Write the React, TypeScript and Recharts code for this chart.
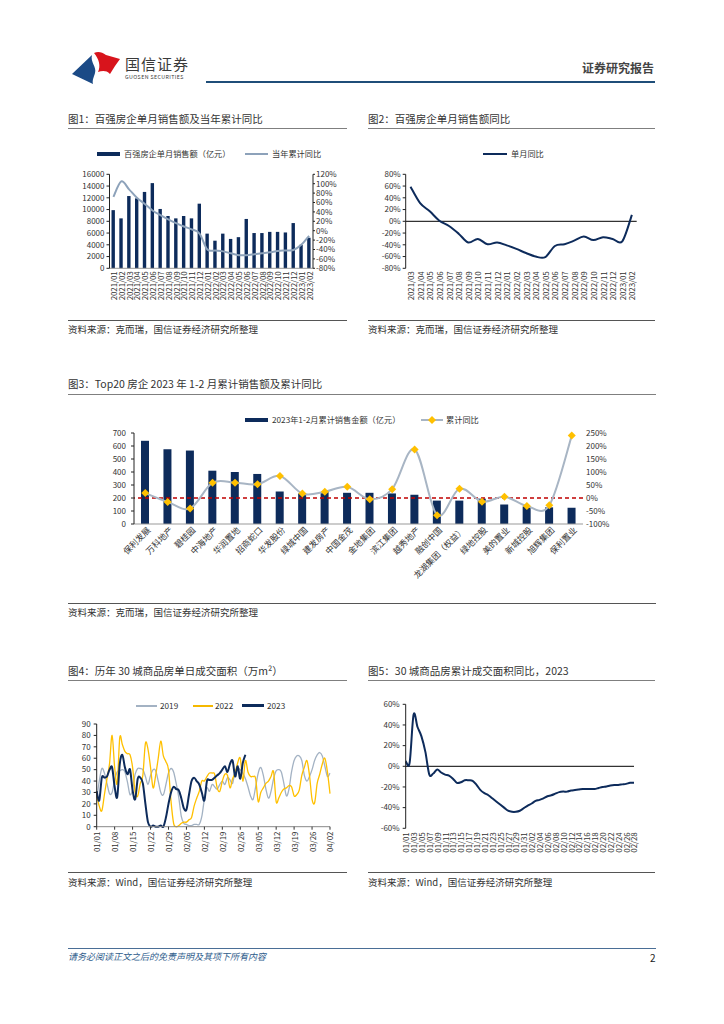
import React from 'react';
import { ComposedChart, LineChart, Bar, Line, XAxis, YAxis, ReferenceLine } from 'recharts';

const FONT = "'Noto Sans CJK SC', 'Noto Sans', sans-serif";
const NAVY = '#0D2B5B';
const TXT = '#333';

// 图1
const months1 = ['2021/01', '2021/02', '2021/03', '2021/04', '2021/05', '2021/06', '2021/07', '2021/08', '2021/09', '2021/10', '2021/11', '2021/12', '2022/01', '2022/02', '2022/03', '2022/04', '2022/05', '2022/06', '2022/07', '2022/08', '2022/09', '2022/10', '2022/11', '2022/12', '2023/01', '2023/02'];
const sales1 = [9900, 8500, 12300, 11900, 13000, 14500, 10100, 8900, 8500, 8900, 8500, 11000, 5900, 4700, 5900, 5000, 5300, 8400, 6000, 6000, 6200, 6200, 6100, 7700, 4000, 5200];
const cumYoy1 = [72, 105, 88, 70, 57, 43, 33, 24, 16, 9, 3, -6, -40, -42, -44, -48, -52, -52, -50, -48, -46, -43, -42, -41, -30, -11];
const leftTicks1 = [0, 2000, 4000, 6000, 8000, 10000, 12000, 14000, 16000];
const rightTicks1 = [-80, -60, -40, -20, 0, 20, 40, 60, 80, 100, 120];

// 图2
const months2 = months1.slice(2);
const yoy2 = [59, 31, 17, 1, -8, -21, -36, -30, -39, -36, -41, -47, -54, -60, -61, -42, -39, -33, -26, -32, -27, -30, -34, 11];
const ticks2 = [-80, -60, -40, -20, 0, 20, 40, 60, 80];

// 图3
const companies = ['保利发展', '万科地产', '碧桂园', '中海地产', '华润置地', '招商蛇口', '华发股份', '绿城中国', '建发房产', '中国金茂', '金地集团', '滨江集团', '越秀地产', '融创中国', '龙湖集团（权益）', '绿地控股', '美的置业', '新城控股', '旭辉集团', '保利置业'];
const sales3 = [640, 575, 565, 410, 400, 385, 250, 235, 245, 240, 240, 235, 225, 180, 180, 195, 150, 135, 128, 125];
const yoy3 = [19, -15, -40, 59, 59, 53, 85, 17, 24, 43, -5, 34, 187, -66, 36, -14, 5, -31, -28, 240];
const leftTicks3 = [0, 100, 200, 300, 400, 500, 600, 700];
const rightTicks3 = [-100, -50, 0, 50, 100, 150, 200, 250];

// 图4
const monthDays = [31, 28, 31, 2];
const days4: string[] = [];
monthDays.forEach((n, m) => {
  for (let d = 1; d <= n; d++) days4.push(`0${m + 1}/${String(d).padStart(2, '0')}`);
});
const y2019 = [25, 40, 51, 47, 38, 29, 30, 41, 48, 49, 50, 48, 39, 28, 33, 46, 51, 51, 50, 44, 37, 45, 50, 49, 40, 30, 28, 37, 47, 51, 48, 38, 26, 9, 3, 2, 1, 1, 2, 2, 2, 9, 24, 34, 31, 37, 35, 33, 37, 40, 37, 43, 41, 38, 49, 51, 50, 47, 42, 35, 27, 24, 35, 47, 52, 45, 33, 25, 31, 42, 49, 50, 48, 38, 27, 33, 48, 58, 62, 62, 58, 45, 40, 44, 50, 58, 63, 65, 62, 53, 44, 47];
const y2022 = [28, 18, 14, 28, 42, 55, 80, 52, 38, 78, 72, 66, 64, 63, 52, 30, 27, 38, 45, 73, 68, 52, 34, 45, 60, 75, 62, 57, 50, 22, 3, 0, 1, 3, 4, 4, 6, 8, 18, 25, 31, 40, 40, 44, 47, 47, 46, 34, 31, 40, 46, 45, 34, 42, 47, 56, 60, 40, 58, 48, 44, 44, 42, 22, 30, 34, 38, 40, 44, 48, 22, 25, 30, 33, 34, 36, 35, 27, 28, 32, 45, 52, 58, 45, 24, 21, 38, 46, 55, 60, 48, 29];
const y2023 = [31, 23, 43, 43, 44, 50, 52, 35, 26, 55, 63, 52, 46, 50, 32, 24, 42, 43, 38, 20, 4, 0, 1, 0, 0, 1, 0, 8, 20, 30, 35, 33, 32, 25, 16, 15, 28, 40, 43, 40, 37, 30, 23, 40, 41, 41, 43, 45, 47, 50, 53, 48, 55, 58, 44, 53, 42, 56, 63];
const ticks4 = [0, 10, 20, 30, 40, 50, 60, 70, 80, 90];

// 图5
const days5 = days4.slice(0, 59);
const cum5 = [5, 3.5, 50, 38, 29, 14, -8, -7, -3, -6, -8, -9, -12, -16, -15.5, -13.5, -13.5, -14, -18, -23, -26, -28, -31, -34, -37, -40, -43, -44, -44, -43, -40.5, -38, -36, -33.5, -32.5, -31, -29, -28, -26.5, -25, -24.5, -24.5, -23.5, -23, -22.5, -22, -22, -22, -22, -21, -20, -19.5, -18.5, -18, -18, -17.5, -17, -16, -16];
const ticks5 = [-60, -40, -20, 0, 20, 40, 60];

const rows1 = months1.map((m, i) => ({ m, s: sales1[i], y: cumYoy1[i] }));
const rows2 = months2.map((m, i) => ({ m, y: yoy2[i] }));
const rows3 = companies.map((c, i) => ({ c, s: sales3[i], y: yoy3[i] }));
const rows4 = days4.map((d, i) => ({ d, a: y2019[i], b: y2022[i], c: y2023[i] }));
const rows5 = days5.map((d, i) => ({ d, y: cum5[i] }));

// excel-like smoothed line (catmull-rom through the points)
const excelSmooth: any = (context: any) => {
  let pts: number[][] = [];
  return {
    areaStart() {},
    areaEnd() {},
    lineStart() { pts = []; },
    point(x: number, y: number) { pts.push([+x, +y]); },
    lineEnd() {
      const n = pts.length;
      if (!n) return;
      context.moveTo(pts[0][0], pts[0][1]);
      for (let i = 0; i < n - 1; i++) {
        const p0 = pts[Math.max(i - 1, 0)];
        const p1 = pts[i];
        const p2 = pts[i + 1];
        const p3 = pts[Math.min(i + 2, n - 1)];
        context.bezierCurveTo(
          p1[0] + (p2[0] - p0[0]) / 6, p1[1] + (p2[1] - p0[1]) / 6,
          p2[0] - (p3[0] - p1[0]) / 6, p2[1] - (p3[1] - p1[1]) / 6,
          p2[0], p2[1]);
      }
    },
  };
};

const rotTick = (angle: number, fs: number, dx = 0, dy = 0) => (props: any) => {
  const { x, y, payload } = props;
  const tx = x + dx;
  const ty = y + dy;
  return (
    <text x={tx} y={ty} transform={`rotate(${angle} ${tx} ${ty})`} textAnchor="end" dominantBaseline="central" fontSize={fs} fill={TXT} fontFamily={FONT}>
      {payload.value}
    </text>
  );
};

const Diamond = (p: any) => {
  const { cx, cy } = p;
  if (cx == null || cy == null) return <g key={p.index} />;
  return <path key={p.index} d={`M${cx},${cy - 4}L${cx + 4},${cy}L${cx},${cy + 4}L${cx - 4},${cy}Z`} fill="#FFC000" />;
};

const tickStyle = { fontSize: 8, fill: TXT, fontFamily: FONT };
const pct = (v: number) => `${v}%`;

const T = ({ x, y, fs = 10, color = TXT, children, style }: any) => (
  <div style={{ position: 'absolute', left: x, top: y - fs * 0.6, fontSize: fs, color, whiteSpace: 'nowrap', lineHeight: 1.2, ...style }}>{children}</div>
);
const HLine = ({ x1, x2, y, color = '#7f7f7f', h = 1 }: any) => (
  <div style={{ position: 'absolute', left: x1, top: y, width: x2 - x1, height: h, background: color }} />
);
const Swatch = ({ x, y, w, h, color }: any) => (
  <div style={{ position: 'absolute', left: x, top: y - h / 2, width: w, height: h, background: color }} />
);

const Logo = () => (
  <svg style={{ position: 'absolute', left: 70, top: 49 }} width={52} height={36} viewBox="0 0 52 36">
    <path d="M2,25 L22,6 C20,13 27,18 25,24 C24,28 22,31 23,35 Z" fill="#1B4A86" />
    <path d="M24,4 C28,2 32,3 36,6 L50,10 L45,17 L40,25 C36,21 32,22 28,23 C31,17 29,10 24,4 Z" fill="#D8141C" />
  </svg>
);

export default function App() {
  return (
    <div style={{ position: 'absolute', left: 0, top: 0, width: 724, height: 1024, background: '#fff', fontFamily: FONT, overflow: 'hidden' }}>
      {/* header */}
      <Logo />
      <T x={125} y={64} fs={15} color="#3a3a3a" style={{ letterSpacing: 1 }}>国信证券</T>
      <T x={125} y={77.5} fs={5.3} color="#3a3a3a" style={{ letterSpacing: 0.4 }}>GUOSEN SECURITIES</T>
      <T x={582} y={68} fs={12} color="#444" style={{ fontWeight: 700 }}>证券研究报告</T>
      <HLine x1={206} x2={655} y={81} h={2} color="#1F4E79" />

      {/* 图1 */}
      <T x={68} y={119} fs={10.5}>图1：百强房企单月销售额及当年累计同比</T>
      <HLine x1={68} x2={347} y={128} />
      <Swatch x={97} y={154} w={23} h={3.5} color={NAVY} />
      <T x={124} y={154} fs={8.2}>百强房企单月销售额（亿元）</T>
      <Swatch x={245} y={154} w={23} h={2} color="#8DA2BA" />
      <T x={272} y={154} fs={8.2}>当年累计同比</T>
      <div style={{ position: 'absolute', left: 60, top: 165 }}>
        <ComposedChart width={300} height={140} data={rows1} margin={{ top: 9.3, right: 0, bottom: 0, left: 0 }}>
          <XAxis dataKey="m" interval={0} height={36.7} axisLine={{ stroke: '#999' }} tickLine={false} tickSize={0} tickMargin={3} tick={rotTick(-90, 7.8)} />
          <YAxis yAxisId="l" width={49.5} interval={0} domain={[0, 16000]} ticks={leftTicks1} axisLine={{ stroke: '#222' }} tickLine={{ stroke: '#222' }} tickSize={3} tickMargin={2} tick={tickStyle} />
          <YAxis yAxisId="r" orientation="right" width={47} interval={0} domain={[-80, 120]} ticks={rightTicks1} tickFormatter={pct} axisLine={{ stroke: '#222' }} tickLine={{ stroke: '#222' }} tickSize={2} tickMargin={1} tick={tickStyle} />
          <Bar yAxisId="l" dataKey="s" fill={NAVY} barSize={3.4} isAnimationActive={false} />
          <Line yAxisId="r" dataKey="y" type={excelSmooth} stroke="#8DA2BA" strokeWidth={2} dot={false} activeDot={false} isAnimationActive={false} />
        </ComposedChart>
      </div>
      <HLine x1={68} x2={347} y={320} color="#555" />
      <T x={68} y={330} fs={9.5}>资料来源：克而瑞，国信证券经济研究所整理</T>

      {/* 图2 */}
      <T x={368} y={119} fs={10.5}>图2：百强房企单月销售额同比</T>
      <HLine x1={368} x2={655} y={128} />
      <Swatch x={483} y={154} w={24} h={2} color={NAVY} />
      <T x={511} y={154} fs={8.2}>单月同比</T>
      <div style={{ position: 'absolute', left: 360, top: 165 }}>
        <LineChart width={290} height={140} data={rows2} margin={{ top: 9.3, right: 13.3, bottom: 0, left: 0 }}>
          <XAxis dataKey="m" interval={0} height={36.7} padding={{ left: 4.8, right: 4.8 }} axisLine={false} tickLine={false} tickSize={0} tickMargin={3} tick={rotTick(-90, 7.8)} />
          <YAxis width={45.7} interval={0} domain={[-80, 80]} ticks={ticks2} tickFormatter={pct} axisLine={{ stroke: '#222' }} tickLine={{ stroke: '#222' }} tickSize={3} tickMargin={2} tick={tickStyle} />
          <ReferenceLine y={0} stroke="#000" strokeWidth={1} />
          <Line dataKey="y" type={excelSmooth} stroke={NAVY} strokeWidth={2} dot={false} activeDot={false} isAnimationActive={false} />
        </LineChart>
      </div>
      <HLine x1={368} x2={655} y={320} color="#555" />
      <T x={368} y={330} fs={9.5}>资料来源：克而瑞，国信证券经济研究所整理</T>

      {/* 图3 */}
      <T x={68} y={384} fs={10.5}>图3：Top20 房企 2023 年 1-2 月累计销售额及累计同比</T>
      <HLine x1={68} x2={656} y={394} />
      <Swatch x={245} y={420} w={23} h={4} color={NAVY} />
      <T x={272} y={420} fs={8.2}>2023年1-2月累计销售金额（亿元）</T>
      <Swatch x={421} y={420} w={22} h={2} color="#A8B5C4" />
      <svg style={{ position: 'absolute', left: 428, top: 416 }} width={8} height={8}><path d="M4,0L8,4L4,8L0,4Z" fill="#FFC000" /></svg>
      <T x={446} y={420} fs={8.2}>累计同比</T>
      <div style={{ position: 'absolute', left: 60, top: 425 }}>
        <ComposedChart width={560} height={165} data={rows3} margin={{ top: 8, right: 0, bottom: 0, left: 0 }}>
          <XAxis dataKey="c" interval={0} height={66} axisLine={{ stroke: '#999' }} tickLine={false} tickSize={0} tickMargin={4} tick={rotTick(-45, 8.5, 3, 0)} />
          <YAxis yAxisId="l" width={74} interval={0} domain={[0, 700]} ticks={leftTicks3} axisLine={{ stroke: '#222' }} tickLine={{ stroke: '#222' }} tickSize={3} tickMargin={5} tick={tickStyle} />
          <YAxis yAxisId="r" orientation="right" width={37} interval={0} domain={[-100, 250]} ticks={rightTicks3} tickFormatter={pct} axisLine={false} tickLine={false} tickSize={0} tickMargin={3} tick={tickStyle} />
          <Bar yAxisId="l" dataKey="s" fill={NAVY} barSize={8} isAnimationActive={false} />
          <ReferenceLine yAxisId="r" y={0} stroke="#C00000" strokeWidth={1.5} strokeDasharray="4 3" />
          <Line yAxisId="r" dataKey="y" type={excelSmooth} stroke="#A8B5C4" strokeWidth={2} dot={Diamond} activeDot={false} isAnimationActive={false} />
        </ComposedChart>
      </div>
      <HLine x1={68} x2={656} y={603} color="#555" />
      <T x={68} y={613} fs={9.5}>资料来源：克而瑞，国信证券经济研究所整理</T>

      {/* 图4 */}
      <T x={68} y={671} fs={10.5}>图4：历年 30 城商品房单日成交面积（万m²）</T>
      <HLine x1={68} x2={347} y={680} />
      <Swatch x={136} y={705.5} w={21} h={2} color="#A3B2C3" />
      <T x={160} y={705.5} fs={8.2}>2019</T>
      <Swatch x={193} y={705.5} w={20} h={2} color="#F5B800" />
      <T x={215} y={705.5} fs={8.2}>2022</T>
      <Swatch x={242} y={705.5} w={22} h={2.5} color={NAVY} />
      <T x={267} y={705.5} fs={8.2}>2023</T>
      <div style={{ position: 'absolute', left: 60, top: 715 }}>
        <LineChart width={285} height={145} data={rows4} margin={{ top: 9, right: 15, bottom: 0, left: 0 }}>
          <XAxis dataKey="d" interval={6} height={33.3} axisLine={{ stroke: '#888' }} tickLine={{ stroke: '#333' }} tickSize={3} tickMargin={2} tick={rotTick(-90, 7.8)} />
          <YAxis width={36.7} interval={0} domain={[0, 90]} ticks={ticks4} axisLine={{ stroke: '#222' }} tickLine={{ stroke: '#222' }} tickSize={3} tickMargin={3} tick={tickStyle} />
          <Line dataKey="a" type={excelSmooth} stroke="#A3B2C3" strokeWidth={1.3} dot={false} activeDot={false} isAnimationActive={false} />
          <Line dataKey="b" type={excelSmooth} stroke="#FFC000" strokeWidth={1.3} dot={false} activeDot={false} isAnimationActive={false} />
          <Line dataKey="c" type={excelSmooth} stroke={NAVY} strokeWidth={2} dot={false} activeDot={false} isAnimationActive={false} />
        </LineChart>
      </div>
      <HLine x1={68} x2={347} y={872} color="#555" />
      <T x={68} y={883} fs={9.5}>资料来源：Wind，国信证券经济研究所整理</T>

      {/* 图5 */}
      <T x={368} y={671} fs={10.5}>图5：30 城商品房累计成交面积同比，2023</T>
      <HLine x1={368} x2={655} y={680} />
      <div style={{ position: 'absolute', left: 360, top: 695 }}>
        <LineChart width={290} height={165} data={rows5} margin={{ top: 9.3, right: 16, bottom: 0, left: 0 }}>
          <XAxis dataKey="d" interval={1} height={31.7} axisLine={false} tickLine={false} tickSize={0} tickMargin={4} tick={rotTick(-90, 7.8)} />
          <YAxis width={45.7} interval={0} domain={[-60, 60]} ticks={ticks5} tickFormatter={pct} axisLine={{ stroke: '#222' }} tickLine={{ stroke: '#222' }} tickSize={3} tickMargin={3} tick={tickStyle} />
          <ReferenceLine y={0} stroke="#000" strokeWidth={1} />
          <Line dataKey="y" type={excelSmooth} stroke={NAVY} strokeWidth={2} dot={false} activeDot={false} isAnimationActive={false} />
        </LineChart>
      </div>
      <HLine x1={368} x2={655} y={872} color="#555" />
      <T x={368} y={883} fs={9.5}>资料来源：Wind，国信证券经济研究所整理</T>

      {/* footer */}
      <HLine x1={68} x2={656} y={948} color="#4A6E96" />
      <T x={68} y={957} fs={9} color="#2F5D8C" style={{ fontStyle: 'italic' }}>请务必阅读正文之后的免责声明及其项下所有内容</T>
      <T x={650} y={958} fs={10} color="#222">2</T>
    </div>
  );
}
